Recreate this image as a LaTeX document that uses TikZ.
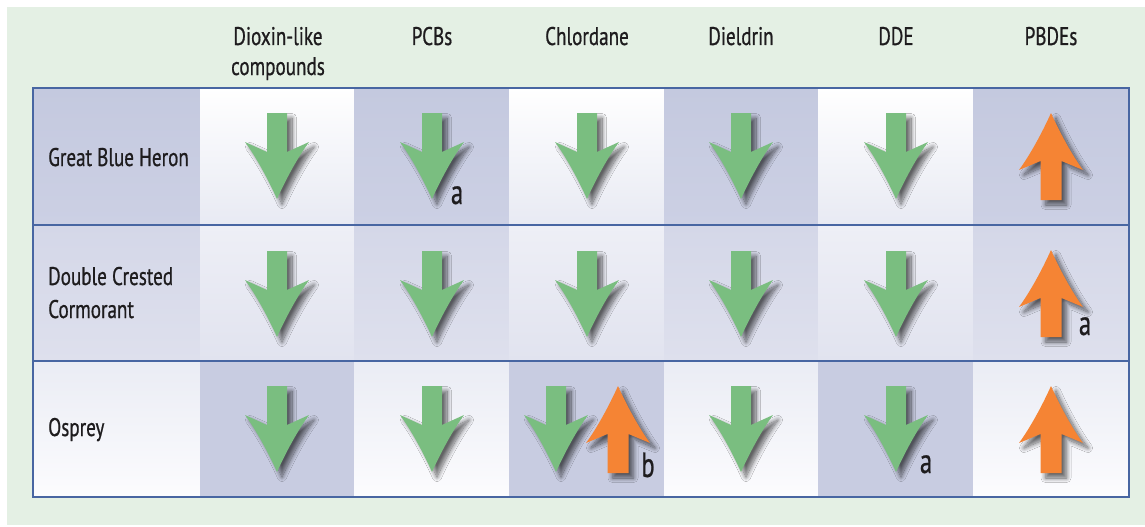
\documentclass[tikz,border=0pt]{standalone}
\usepackage{fontspec}
\setmainfont[FakeStretch=0.75,FakeBold=0.7]{PT Sans}
\newfontfamily\fnfont[FakeStretch=0.7,FakeBold=0.7]{PT Sans}
\usetikzlibrary{shadows.blur}
\definecolor{bggreen}{RGB}{228,240,228}
\definecolor{rulecol}{RGB}{72,102,162}
\definecolor{txtcol}{RGB}{30,28,30}
\definecolor{arrgreen}{RGB}{122,190,128}
\definecolor{arrorange}{RGB}{245,132,52}
\definecolor{bA}{RGB}{196,201,223}
\definecolor{bB}{RGB}{204,208,228}
\definecolor{wB}{RGB}{232,234,243}
\definecolor{bC}{RGB}{212,215,232}
\definecolor{bD}{RGB}{222,224,237}
\definecolor{wC}{RGB}{238,239,246}
\definecolor{wD}{RGB}{225,227,239}
\definecolor{bE}{RGB}{200,204,225}
\definecolor{wE}{RGB}{234,236,244}
\definecolor{wF}{RGB}{252,252,254}
\begin{document}
\begin{tikzpicture}[x=1pt,y=-1pt,
  lbl/.style={inner sep=0pt, anchor=base west, text=txtcol, font=\fontsize{25.5}{28}\selectfont},
  hdr/.style={inner sep=0pt, anchor=base, text=txtcol, font=\fontsize{25.5}{28}\selectfont},
  fnote/.style={inner sep=0pt, anchor=base, text=txtcol, font=\fnfont\fontsize{35}{40}\selectfont},
  arrshadow/.style={blur shadow={shadow xshift=5pt, shadow yshift=-5pt, shadow blur radius=4.5pt, shadow blur steps=12, shadow opacity=60}},
  darr/.pic={\fill[arrgreen, arrshadow] (-10,0) -- (10,0) -- (10,39) -- (32,29) .. controls (21,44) and (9,66) .. (0,86) .. controls (-9,66) and (-21,44) .. (-32,29) -- (-10,39) -- cycle;},
  uarr/.pic={\fill[arrorange, arrshadow] (-10.5,87) -- (10.5,87) -- (10.5,48) -- (32,57) .. controls (21,42) and (9,20) .. (0,0) .. controls (-9,20) and (-21,42) .. (-32,57) -- (-10.5,48) -- cycle;},
  cB1/.style={top color=bA, bottom color=bB},
  cW1/.style={top color=white, bottom color=wB},
  cB2/.style={top color=bC, bottom color=bD},
  cW2/.style={top color=wC, bottom color=wD},
  cB3/.style={top color=bE, bottom color=bE},
  cW3/.style={top color=wE, bottom color=wF}]
\useasboundingbox (0,0) rectangle (1145,527);
\fill[white] (0,0) rectangle (1145,527);
\fill[bggreen] (7,7) rectangle (1145,525);
% cells
\foreach \xa/\xb/\ca/\cb/\cc in {33/200/cB1/cB2/cW3, 200/354.5/cW1/cW2/cB3, 354.5/509/cB1/cB2/cW3, 509/664/cW1/cW2/cB3, 664/818.5/cB1/cB2/cW3, 818.5/973/cW1/cW2/cB3, 973/1129/cB1/cB2/cW3}{
  \shade[\ca] (\xa,88) rectangle (\xb,225);
  \shade[\cb] (\xa,225) rectangle (\xb,361);
  \shade[\cc] (\xa,361) rectangle (\xb,497);
}
% rules
\draw[rulecol, line width=2pt] (33,225) -- (1129,225);
\draw[rulecol, line width=2pt] (33,361) -- (1129,361);
\draw[rulecol, line width=2pt] (33,88) rectangle (1129,497);
% headers
\node[hdr] (h1a) at (278,45) {Dioxin-like};
\node[hdr] (h1b) at (278,75) {compounds};
\node[hdr] (h2) at (432,45) {PCBs};
\node[hdr] (h3) at (587,45) {Chlordane};
\node[hdr] (h4) at (741,45) {Dieldrin};
\node[hdr] (h5) at (896,45) {DDE};
\node[hdr] (h6) at (1051,45) {PBDEs};
% row labels
\node[lbl] (r1) at (48,166) {Great Blue Heron};
\node[lbl] (r2a) at (48,285) {Double Crested};
\node[lbl] (r2b) at (48,318) {Cormorant};
\node[lbl] (r3) at (48,436) {Osprey};
% arrows row 1
\foreach \x in {277,432,587,741,896} { \pic at (\x,113) {darr}; }
\pic at (1051,113) {uarr};
% arrows row 2
\foreach \x in {277,432,587,741,896} { \pic at (\x,251) {darr}; }
\pic at (1051,250) {uarr};
% arrows row 3
\foreach \x in {277,432,556,741,896} { \pic at (\x,386) {darr}; }
\pic at (618,386) {uarr};
\pic at (1051,386) {uarr};
% footnotes
\node[fnote] (fa1) at (457,204) {a};
\node[fnote] (fa2) at (1085,335) {a};
\node[fnote] (fb3) at (648,477) {b};
\node[fnote] (fa3) at (926,473) {a};
\end{tikzpicture}
\end{document}
